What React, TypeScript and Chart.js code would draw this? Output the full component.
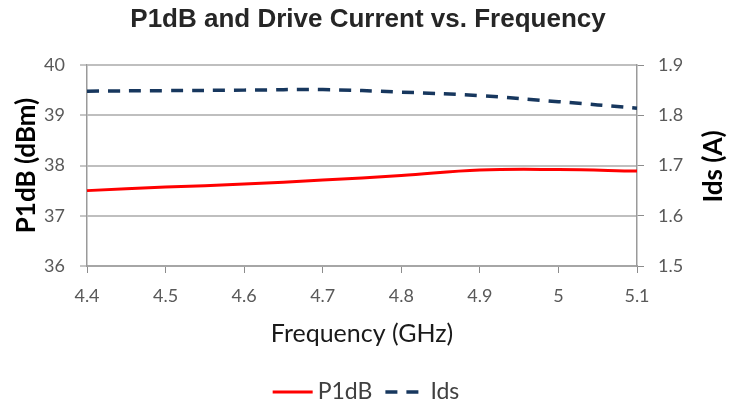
import React, { useEffect, useRef } from 'react';
import { Chart, registerables } from 'chart.js';

Chart.register(...registerables);

const freqLabels = ['4.4', '4.5', '4.6', '4.7', '4.8', '4.9', '5', '5.1'];
const p1dbValues = [37.5, 37.57, 37.63, 37.71, 37.8, 37.91, 37.92, 37.89];
const idsValues = [1.848, 1.849, 1.85, 1.851, 1.846, 1.839, 1.827, 1.814];
const leftTicks = [36, 37, 38, 39, 40];
const rightTicks = [1.5, 1.6, 1.7, 1.8, 1.9];

const chartTitle = 'P1dB and Drive Current vs. Frequency';
const xTitle = 'Frequency (GHz)';
const leftTitle = 'P1dB (dBm)';
const rightTitle = 'Ids (A)';

const extrasPlugin = {
  id: 'extras',
  afterDraw(chart: any) {
    const ctx = chart.ctx;
    const area = chart.chartArea;
    ctx.save();
    // right axis title, reading bottom to top
    ctx.font = 'bold 26px Lato';
    ctx.fillStyle = '#000000';
    ctx.textAlign = 'center';
    ctx.textBaseline = 'middle';
    ctx.translate(714, (area.top + area.bottom) / 2 + 1);
    ctx.rotate(-Math.PI / 2);
    ctx.fillText(rightTitle, 0, 0);
    ctx.restore();

    // legend
    ctx.save();
    ctx.font = '23px Lato';
    const items = chart.data.datasets.map((ds: any) => ({
      label: ds.label,
      color: ds.borderColor,
      dash: ds.borderDash || [],
      width: ds.borderWidth,
    }));
    const lineW = 40;
    const gapText = 5;
    const gapItem = 13;
    const widths = items.map((it: any) => ctx.measureText(it.label).width);
    let total = 0;
    items.forEach((_: any, i: number) => {
      total += lineW + gapText + widths[i];
    });
    total += gapItem * (items.length - 1);
    let x = chart.width / 2 - total / 2 - 2;
    const y = 392;
    items.forEach((it: any, i: number) => {
      ctx.beginPath();
      ctx.strokeStyle = it.color;
      ctx.lineWidth = it.width;
      ctx.setLineDash(it.dash);
      ctx.moveTo(x, y);
      ctx.lineTo(x + lineW, y);
      ctx.stroke();
      ctx.setLineDash([]);
      ctx.fillStyle = '#404040';
      ctx.textAlign = 'left';
      ctx.textBaseline = 'middle';
      ctx.fillText(it.label, x + lineW + gapText, y);
      x += lineW + gapText + widths[i] + gapItem;
    });
    ctx.restore();
  },
};

export default function App() {
  const canvasRef = useRef<HTMLCanvasElement | null>(null);

  useEffect(() => {
    const canvas = canvasRef.current;
    if (!canvas) return;
    const tickFont = { family: 'Lato', size: 18 };
    const chart = new Chart(canvas, {
      type: 'line',
      data: {
        labels: freqLabels,
        datasets: [
          {
            label: 'P1dB',
            data: p1dbValues,
            borderColor: '#ff0000',
            backgroundColor: '#ff0000',
            borderWidth: 3,
            pointRadius: 0,
            tension: 0.4,
            yAxisID: 'y',
          },
          {
            label: 'Ids',
            data: idsValues,
            borderColor: '#17375e',
            backgroundColor: '#17375e',
            borderWidth: 3.5,
            borderDash: [12, 9],
            pointRadius: 0,
            tension: 0.4,
            yAxisID: 'y1',
          },
        ],
      },
      options: {
        responsive: false,
        animation: false,
        layout: { padding: 0 },
        plugins: {
          legend: { display: false },
          tooltip: { enabled: false },
          title: {
            display: true,
            text: chartTitle,
            color: '#262626',
            font: { family: 'Liberation Sans', size: 26, weight: 'bold', lineHeight: 1.2 },
            padding: { top: 4, bottom: 29.8 },
          },
        },
        scales: {
          x: {
            type: 'category',
            offset: false,
            afterFit: (scale: any) => {
              scale.height = 140;
            },
            grid: {
              drawOnChartArea: false,
              drawTicks: true,
              tickLength: 7,
              tickColor: '#8c8c8c',
              tickWidth: 1,
            },
            border: { display: true, color: '#a6a6a6', width: 2 },
            ticks: {
              font: tickFont,
              color: '#595959',
              padding: 12,
              autoSkip: false,
              maxRotation: 0,
            },
            title: {
              display: true,
              text: xTitle,
              color: '#1a1a1a',
              font: { family: 'Lato', size: 25, lineHeight: 1.2 },
              padding: { top: 0, bottom: 57 },
            },
          },
          y: {
            type: 'linear',
            position: 'left',
            min: 36,
            max: 40,
            afterBuildTicks: (scale: any) => {
              scale.ticks = leftTicks.map((v) => ({ value: v }));
            },
            afterFit: (scale: any) => {
              scale.width = 87;
            },
            grid: {
              color: '#bfbfbf',
              lineWidth: 2,
              tickLength: 7,
              tickColor: '#8c8c8c',
              tickWidth: 1,
            },
            border: { display: true, color: '#9a9a9a', width: 1.5 },
            ticks: {
              font: tickFont,
              color: '#595959',
              padding: 15,
              callback: (v: any) => String(v),
            },
            title: {
              display: true,
              text: leftTitle,
              color: '#000000',
              font: { family: 'Lato', size: 26, weight: 'bold', lineHeight: 1.2 },
              padding: { top: 11.4, bottom: 0 },
            },
          },
          y1: {
            type: 'linear',
            position: 'right',
            min: 1.5,
            max: 1.9,
            afterBuildTicks: (scale: any) => {
              scale.ticks = rightTicks.map((v) => ({ value: v }));
            },
            afterFit: (scale: any) => {
              scale.width = 99;
            },
            grid: {
              drawOnChartArea: false,
              drawTicks: true,
              tickLength: 7,
              tickColor: '#8c8c8c',
              tickWidth: 1,
            },
            border: { display: true, color: '#9a9a9a', width: 1.5 },
            ticks: {
              font: tickFont,
              color: '#595959',
              padding: 14,
              callback: (v: any) => Number(v).toFixed(1),
            },
          },
        },
      },
      plugins: [extrasPlugin],
    });
    return () => {
      chart.destroy();
    };
  }, []);

  return (
    <div style={{ position: 'absolute', left: 0, top: 0, width: 736, height: 406, background: '#ffffff' }}>
      <canvas ref={canvasRef} width={736} height={406} style={{ width: 736, height: 406, display: 'block' }} />
    </div>
  );
}
